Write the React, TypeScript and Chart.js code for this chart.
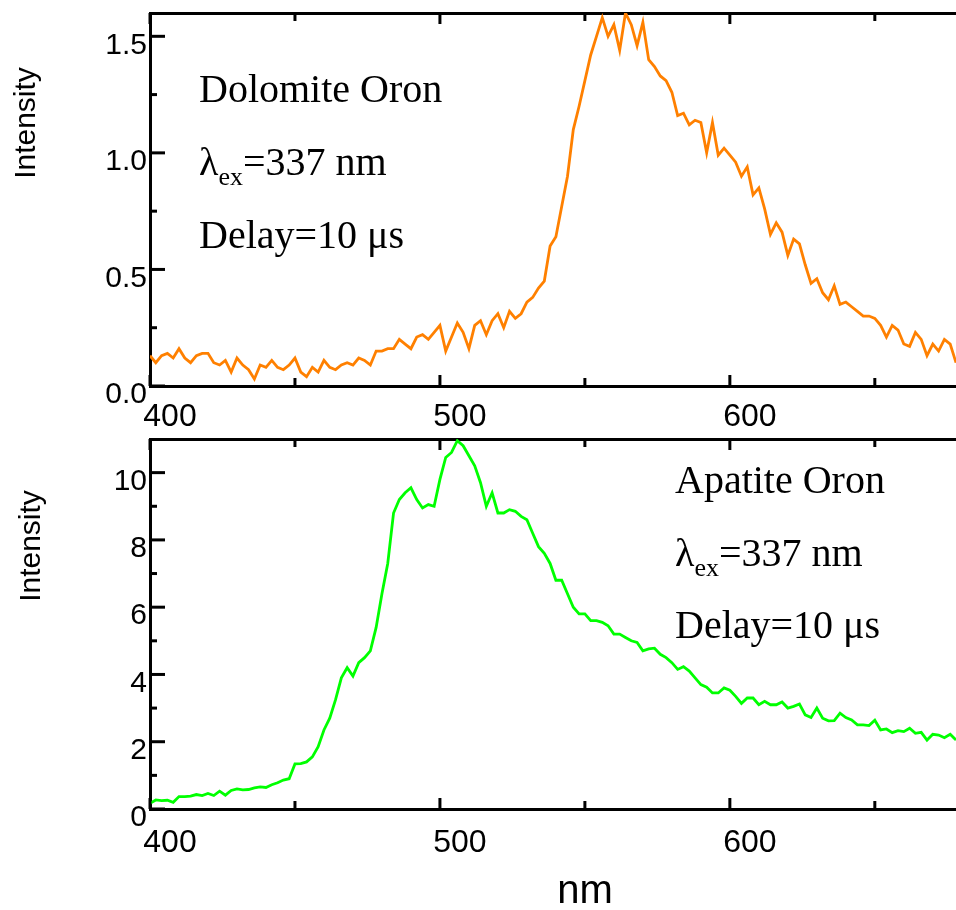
import React, { useEffect, useRef } from 'react';
import { Chart, registerables } from 'chart.js';

Chart.register(...registerables);

const SANS = '"Liberation Sans", Arial, sans-serif';
const SERIF = '"Liberation Serif", "Times New Roman", serif';

const wavelengths = [
  400, 402, 404, 406, 408, 410, 412, 414, 416, 418,
  420, 422, 424, 426, 428, 430, 432, 434, 436, 438,
  440, 442, 444, 446, 448, 450, 452, 454, 456, 458,
  460, 462, 464, 466, 468, 470, 472, 474, 476, 478,
  480, 482, 484, 486, 488, 490, 492, 494, 496, 498,
  500, 502, 504, 506, 508, 510, 512, 514, 516, 518,
  520, 522, 524, 526, 528, 530, 532, 534, 536, 538,
  540, 542, 544, 546, 548, 550, 552, 554, 556, 558,
  560, 562, 564, 566, 568, 570, 572, 574, 576, 578,
  580, 582, 584, 586, 588, 590, 592, 594, 596, 598,
  600, 602, 604, 606, 608, 610, 612, 614, 616, 618,
  620, 622, 624, 626, 628, 630, 632, 634, 636, 638,
  640, 642, 644, 646, 648, 650, 652, 654, 656, 658,
  660, 662, 664, 666, 668, 670, 672, 674, 676, 678,
];

const dolomite = [
  0.13, 0.10, 0.13, 0.14, 0.12, 0.16, 0.12, 0.10, 0.13, 0.14,
  0.14, 0.10, 0.09, 0.11, 0.06, 0.12, 0.09, 0.07, 0.03, 0.09,
  0.08, 0.11, 0.08, 0.07, 0.09, 0.12, 0.06, 0.04, 0.08, 0.06,
  0.11, 0.08, 0.07, 0.09, 0.10, 0.09, 0.12, 0.11, 0.09, 0.15,
  0.15, 0.16, 0.16, 0.20, 0.18, 0.16, 0.21, 0.22, 0.20, 0.23,
  0.26, 0.15, 0.21, 0.27, 0.23, 0.16, 0.26, 0.28, 0.22, 0.28,
  0.31, 0.25, 0.32, 0.29, 0.31, 0.36, 0.38, 0.42, 0.45, 0.60,
  0.64, 0.77, 0.90, 1.10, 1.20, 1.31, 1.42, 1.50, 1.58, 1.50,
  1.55, 1.44, 1.60, 1.55, 1.46, 1.56, 1.40, 1.37, 1.33, 1.31,
  1.26, 1.16, 1.17, 1.12, 1.14, 1.13, 1.00, 1.13, 0.99, 1.02,
  0.99, 0.96, 0.90, 0.94, 0.82, 0.85, 0.76, 0.65, 0.70, 0.66,
  0.56, 0.63, 0.61, 0.52, 0.44, 0.46, 0.40, 0.37, 0.43, 0.35,
  0.36, 0.34, 0.32, 0.30, 0.30, 0.29, 0.26, 0.21, 0.26, 0.24,
  0.18, 0.17, 0.23, 0.20, 0.13, 0.18, 0.15, 0.20, 0.18, 0.10,
];

const apatite = [
  0.17, 0.27, 0.25, 0.26, 0.20, 0.37, 0.37, 0.38, 0.43, 0.40,
  0.46, 0.40, 0.53, 0.41, 0.55, 0.60, 0.57, 0.58, 0.63, 0.66,
  0.64, 0.72, 0.78, 0.86, 0.90, 1.34, 1.35, 1.40, 1.55, 1.85,
  2.35, 2.70, 3.25, 3.90, 4.20, 3.95, 4.35, 4.50, 4.70, 5.40,
  6.40, 7.30, 8.80, 9.20, 9.40, 9.55, 9.20, 8.95, 9.05, 9.00,
  9.80, 10.45, 10.60, 10.95, 10.80, 10.50, 10.20, 9.70, 9.00, 9.40,
  8.80, 8.80, 8.90, 8.85, 8.70, 8.60, 8.20, 7.80, 7.60, 7.30,
  6.80, 6.80, 6.40, 6.00, 5.80, 5.80, 5.60, 5.60, 5.55, 5.45,
  5.20, 5.20, 5.10, 5.00, 4.95, 4.70, 4.76, 4.78, 4.60, 4.50,
  4.35, 4.15, 4.23, 4.10, 3.90, 3.70, 3.62, 3.45, 3.45, 3.60,
  3.53, 3.35, 3.14, 3.30, 3.30, 3.10, 3.20, 3.10, 3.10, 3.18,
  3.00, 3.05, 3.12, 2.80, 2.72, 3.00, 2.70, 2.62, 2.63, 2.85,
  2.72, 2.65, 2.50, 2.50, 2.48, 2.64, 2.35, 2.38, 2.27, 2.33,
  2.30, 2.40, 2.25, 2.28, 2.05, 2.22, 2.20, 2.12, 2.22, 2.05,
];

const X_MIN = 400;
const X_MAX = 678;
const xMajorTicks = [400, 500, 600];
const xMinorTicks = [450, 550, 650];
const dolomiteYMajor = [0, 0.5, 1.0, 1.5];
const dolomiteYMinor = [0.25, 0.75, 1.25];
const apatiteYMajor = [0, 2, 4, 6, 8, 10];
const apatiteYMinor = [1, 3, 5, 7, 9];

type PanelProps = {
  height: number;
  areaTop: number;
  areaBottom: number;
  yMax: number;
  yMajor: number[];
  yMinor: number[];
  yDigits: number;
  values: number[];
  color: string;
  xLabelPad: number;
  title: string;
  textX: number;
  textY: [number, number, number];
  intensityX: number;
  intensityY: number;
  nm?: { x: number; y: number };
};

function Panel(p: PanelProps) {
  const ref = useRef<HTMLCanvasElement | null>(null);

  useEffect(() => {
    const canvas = ref.current;
    if (!canvas) return;

    const decor = {
      id: 'decor',
      afterDraw(chart: any) {
        const { ctx, chartArea, scales } = chart;
        const xs = scales.x;
        const ys = scales.y;
        ctx.save();
        ctx.strokeStyle = '#000';
        ctx.lineWidth = 3;
        ctx.lineCap = 'butt';
        const line = (x1: number, y1: number, x2: number, y2: number) => {
          ctx.beginPath();
          ctx.moveTo(x1, y1);
          ctx.lineTo(x2, y2);
          ctx.stroke();
        };
        p.yMajor.forEach((v) => {
          const py = ys.getPixelForValue(v);
          line(chartArea.left, py, chartArea.left + 15, py);
        });
        p.yMinor.forEach((v) => {
          const py = ys.getPixelForValue(v);
          line(chartArea.left, py, chartArea.left + 7, py);
        });
        const xt = (vals: number[], len: number) => {
          vals.forEach((v) => {
            const px = xs.getPixelForValue(v);
            line(px, chartArea.bottom, px, chartArea.bottom - len);
            line(px, chartArea.top, px, chartArea.top + len);
          });
        };
        xt(xMajorTicks, 11);
        xt(xMinorTicks, 8);

        ctx.fillStyle = '#000';
        ctx.save();
        ctx.translate(p.intensityX, p.intensityY);
        ctx.rotate(-Math.PI / 2);
        ctx.font = `30px ${SANS}`;
        ctx.textAlign = 'center';
        ctx.textBaseline = 'alphabetic';
        ctx.fillText('Intensity', 0, 0);
        ctx.restore();

        ctx.textAlign = 'left';
        ctx.textBaseline = 'alphabetic';
        ctx.font = `40px ${SERIF}`;
        ctx.fillText(p.title, p.textX, p.textY[0]);
        ctx.fillText('λ', p.textX, p.textY[1]);
        const wl = ctx.measureText('λ').width;
        ctx.font = `26px ${SERIF}`;
        ctx.fillText('ex', p.textX + wl, p.textY[1] + 10);
        const we = ctx.measureText('ex').width;
        ctx.font = `40px ${SERIF}`;
        ctx.fillText('=337 nm', p.textX + wl + we, p.textY[1]);
        ctx.fillText('Delay=10 μs', p.textX, p.textY[2]);

        if (p.nm) {
          ctx.font = `40px ${SANS}`;
          ctx.textAlign = 'center';
          ctx.fillText('nm', p.nm.x, p.nm.y);
        }
        ctx.restore();
      },
    };

    const chart = new Chart(canvas, {
      type: 'line',
      data: {
        datasets: [
          {
            data: wavelengths.map((w, i) => ({ x: w, y: p.values[i] })),
            borderColor: p.color,
            backgroundColor: p.color,
            borderWidth: 2.8,
            pointRadius: 0,
            tension: 0,
            fill: false,
          },
        ],
      },
      options: {
        animation: false,
        responsive: false,
        devicePixelRatio: 1,
        events: [],
        layout: { padding: 0 },
        plugins: { legend: { display: false }, tooltip: { enabled: false } },
        scales: {
          x: {
            type: 'linear',
            position: 'bottom',
            min: X_MIN,
            max: X_MAX,
            grid: { display: false, drawTicks: false },
            border: { display: true, width: 3, color: '#000' },
            afterBuildTicks: (s: any) => {
              s.ticks = xMajorTicks.map((v) => ({ value: v }));
            },
            ticks: {
              color: '#000',
              font: { family: SANS, size: 32 },
              padding: p.xLabelPad,
              labelOffset: 20,
              maxRotation: 0,
              autoSkip: false,
              callback: (v: any) => String(v),
            },
            afterFit: (s: any) => {
              s.height = p.height - p.areaBottom;
              s.paddingLeft = 0;
              s.paddingRight = 0;
            },
          },
          x2: {
            type: 'linear',
            position: 'top',
            min: X_MIN,
            max: X_MAX,
            grid: { display: false, drawTicks: false },
            border: { display: true, width: 3, color: '#000' },
            ticks: { display: false },
            afterFit: (s: any) => {
              s.height = p.areaTop;
              s.paddingLeft = 0;
              s.paddingRight = 0;
            },
          },
          y: {
            type: 'linear',
            position: 'left',
            min: 0,
            max: p.yMax,
            grid: { display: false, drawTicks: false },
            border: { display: true, width: 3, color: '#000' },
            afterBuildTicks: (s: any) => {
              s.ticks = p.yMajor.map((v) => ({ value: v }));
            },
            ticks: {
              color: '#000',
              font: { family: SANS, size: 30 },
              padding: 3,
              labelOffset: 9,
              autoSkip: false,
              callback: (v: any) => Number(v).toFixed(p.yDigits),
            },
            afterFit: (s: any) => {
              s.width = 150;
              s.paddingTop = 0;
              s.paddingBottom = 0;
            },
          },
        },
      } as any,
      plugins: [decor],
    });
    return () => chart.destroy();
  }, []);

  return (
    <canvas
      ref={ref}
      width={956}
      height={p.height}
      style={{ display: 'block', width: 956, height: p.height }}
    />
  );
}

export default function App() {
  return (
    <div style={{ position: 'fixed', left: 0, top: 0, width: 956, height: 910, background: '#fff', overflow: 'hidden' }}>
      <div style={{ position: 'absolute', left: 0, top: 0 }}>
        <Panel
          height={432}
          areaTop={13}
          areaBottom={386}
          yMax={1.6}
          yMajor={dolomiteYMajor}
          yMinor={dolomiteYMinor}
          yDigits={1}
          values={dolomite}
          color="#FF8000"
          xLabelPad={12}
          title="Dolomite Oron"
          textX={199}
          textY={[102, 175, 248]}
          intensityX={35}
          intensityY={123}
        />
      </div>
      <div style={{ position: 'absolute', left: 0, top: 432 }}>
        <Panel
          height={478}
          areaTop={7}
          areaBottom={377}
          yMax={11}
          yMajor={apatiteYMajor}
          yMinor={apatiteYMinor}
          yDigits={0}
          values={apatite}
          color="#00FF00"
          xLabelPad={15}
          title="Apatite Oron"
          textX={675}
          textY={[61, 134, 206]}
          intensityX={40}
          intensityY={114}
          nm={{ x: 585, y: 471 }}
        />
      </div>
    </div>
  );
}
